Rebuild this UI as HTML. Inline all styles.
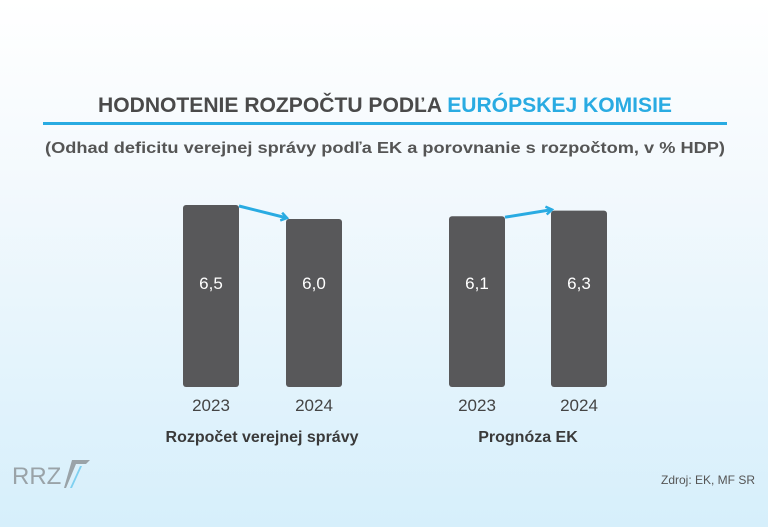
<!DOCTYPE html>
<html><head><meta charset="utf-8"><style>
body{margin:0;width:768px;height:527px;overflow:hidden;background:linear-gradient(#ffffff 0%,#f3f9fd 35%,#d6effb 100%);font-family:"Liberation Sans",sans-serif;}
svg{display:block}
</style></head><body>
<svg width="768" height="527">
<text x="385" y="112" text-anchor="middle" font-size="21" font-weight="bold" fill="#4a4a4a" font-family="Liberation Sans Narrow, Liberation Sans, sans-serif" textLength="574" lengthAdjust="spacingAndGlyphs">HODNOTENIE ROZPOČTU PODĽA <tspan fill="#29abe2">EURÓPSKEJ KOMISIE</tspan></text>
<rect x="43" y="122" width="684" height="3" fill="#29abe2"/>
<text x="385" y="153" text-anchor="middle" font-size="16" font-weight="bold" fill="#555" textLength="680" lengthAdjust="spacingAndGlyphs">(Odhad deficitu verejnej správy podľa EK a porovnanie s rozpočtom, v % HDP)</text>
<g id="bars"></g>
<text x="262" y="442" text-anchor="middle" font-size="16" font-weight="bold" fill="#3a3a3a">Rozpočet verejnej správy</text>
<text x="528" y="442" text-anchor="middle" font-size="16" font-weight="bold" fill="#3a3a3a">Prognóza EK</text>
<g>
<text x="12" y="484" font-size="24" fill="#9aa3a8" font-family="Liberation Sans Narrow, Liberation Sans, sans-serif">RRZ</text>
<polygon points="72,460 90,460 86,464 76,464 66,488 64,488" fill="#9aa3a8"/>
<polygon points="70,488 80,466 82,466 72,488" fill="#7fd0f0"/>
</g>
<text x="755" y="484" text-anchor="end" font-size="12" fill="#555">Zdroj: EK, MF SR</text>
</svg>
<script>
const categories=["2023","2024","2023","2024"];
const values=[6.5,6.0,6.1,6.3];
const labels=["6,5","6,0","6,1","6,3"];
const ns="http://www.w3.org/2000/svg";
const g=document.getElementById('bars');
const baseY=387, pxPerUnit=28;
const xs=[183,286,449,551], bw=56;
function y(v){return baseY-v*pxPerUnit;}
function mk(t,a){const e=document.createElementNS(ns,t);for(const k in a)e.setAttribute(k,a[k]);g.appendChild(e);return e;}
const defs=mk('defs',{});
defs.innerHTML='<marker id="ah" markerWidth="10" markerHeight="10" refX="7" refY="5" orient="auto" markerUnits="userSpaceOnUse"><path d="M1,1 L7,5 L1,9" fill="none" stroke="#29abe2" stroke-width="2.5"/></marker>';
values.forEach((v,i)=>{
 const r=mk('rect',{x:xs[i],y:y(v),width:bw,height:v*pxPerUnit,rx:3,fill:'#58585a'});
 
 
 const t=mk('text',{x:xs[i]+bw/2,y:289,'text-anchor':'middle','font-size':17,fill:'#fff'});
 t.textContent=labels[i];
 
 
 const c=mk('text',{x:xs[i]+bw/2,y:411,'text-anchor':'middle','font-size':17,fill:'#444'});
 c.textContent=categories[i];
 
 
});
[[0,1],[2,3]].forEach(([a,b])=>{
 const l=mk('line',{x1:xs[a]+bw,y1:y(values[a])+1,x2:xs[b]+1,y2:y(values[b])-1,stroke:'#29abe2','stroke-width':3,'marker-end':'url(#ah)'});
 
 
});
</script>
</body></html>
